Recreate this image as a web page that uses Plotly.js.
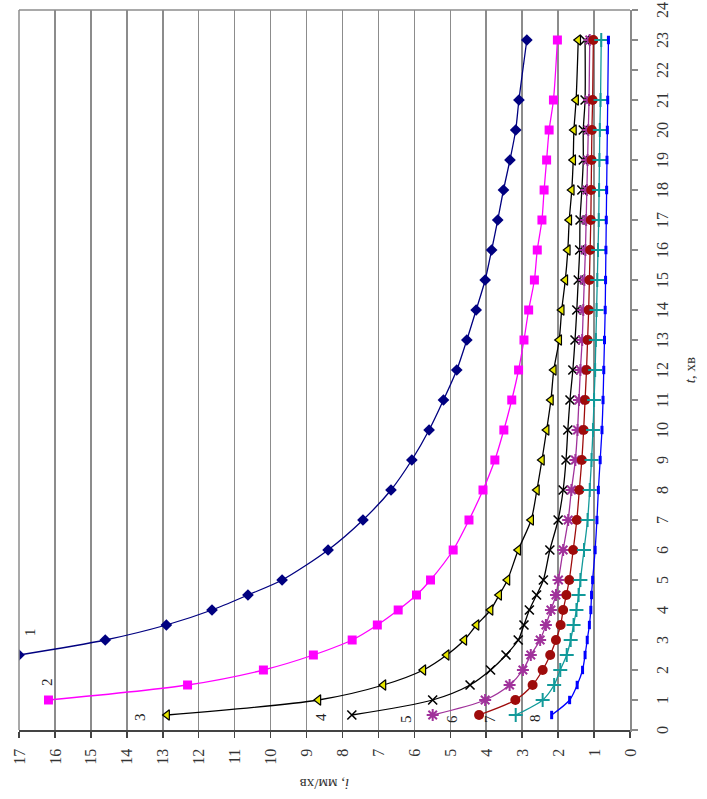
<!DOCTYPE html>
<html>
<head>
<meta charset="utf-8">
<script src="https://cdn.plot.ly/plotly-3.0.1.min.js"></script>
<style>
  html, body { margin: 0; padding: 0; background: #fff; }
  #page { position: relative; width: 707px; height: 799px; overflow: hidden; background: #fff; }
  /* the chart is laid out landscape and turned a quarter turn counter-clockwise */
  #chart { position: absolute; left: 0; top: 0; width: 799px; height: 707px;
           transform-origin: 0 0; transform: translate(0px, 799px) rotate(-90deg); }
</style>
</head>
<body>
<div id="page"><div id="chart"></div></div>
<script>
// time, min
const tFrom25 = [2.5, 3, 3.5, 4, 4.5, 5, 6, 7, 8, 9, 10, 11, 12, 13, 14, 15, 16, 17, 18, 19, 20, 21, 23];
const tFrom1  = [1, 1.5, 2, 2.5, 3, 3.5, 4, 4.5, 5, 6, 7, 8, 9, 10, 11, 12, 13, 14, 15, 16, 17, 18, 19, 20, 21, 23];
const tFrom05 = [0.5, 1, 1.5, 2, 2.5, 3, 3.5, 4, 4.5, 5, 6, 7, 8, 9, 10, 11, 12, 13, 14, 15, 16, 17, 18, 19, 20, 21, 23];

// rate i, mm/min, curves 1..8
const i1 = [17.0, 14.6, 12.9, 11.63, 10.63, 9.68, 8.4, 7.43, 6.65, 6.07, 5.59, 5.19, 4.82, 4.54, 4.28, 4.03, 3.85, 3.68, 3.52, 3.34, 3.18, 3.09, 2.87];
const i2 = [16.18, 12.31, 10.2, 8.81, 7.73, 7.03, 6.45, 5.94, 5.55, 4.92, 4.48, 4.09, 3.76, 3.51, 3.29, 3.1, 2.95, 2.82, 2.66, 2.58, 2.45, 2.39, 2.32, 2.25, 2.13, 2.02];
const i3 = [12.88, 8.67, 6.86, 5.75, 5.1, 4.61, 4.27, 3.88, 3.64, 3.41, 3.11, 2.75, 2.59, 2.45, 2.32, 2.2, 2.12, 1.97, 1.9, 1.8, 1.73, 1.69, 1.62, 1.58, 1.56, 1.5, 1.44];
const i4 = [7.74, 5.49, 4.45, 3.88, 3.45, 3.11, 2.95, 2.8, 2.6, 2.41, 2.23, 2.0, 1.86, 1.78, 1.73, 1.67, 1.59, 1.53, 1.48, 1.44, 1.4, 1.39, 1.34, 1.3, 1.3, 1.25, 1.25];
const i5 = [5.49, 4.03, 3.35, 2.98, 2.76, 2.5, 2.34, 2.2, 2.06, 1.99, 1.86, 1.72, 1.63, 1.52, 1.46, 1.42, 1.38, 1.33, 1.3, 1.27, 1.24, 1.22, 1.2, 1.18, 1.16, 1.14, 1.12];
const i6 = [4.2, 3.19, 2.71, 2.43, 2.22, 2.06, 1.93, 1.86, 1.77, 1.69, 1.58, 1.48, 1.41, 1.34, 1.29, 1.25, 1.21, 1.18, 1.15, 1.13, 1.11, 1.09, 1.08, 1.07, 1.06, 1.04, 1.02];
const i7 = [3.18, 2.43, 2.11, 1.94, 1.76, 1.65, 1.57, 1.49, 1.43, 1.38, 1.28, 1.18, 1.12, 1.07, 1.03, 1.0, 0.97, 0.95, 0.93, 0.91, 0.89, 0.87, 0.86, 0.85, 0.84, 0.82, 0.8];
const i8 = [2.18, 1.68, 1.47, 1.32, 1.25, 1.19, 1.13, 1.09, 1.07, 1.04, 0.97, 0.92, 0.88, 0.83, 0.78, 0.75, 0.73, 0.71, 0.69, 0.68, 0.67, 0.66, 0.65, 0.64, 0.63, 0.62, 0.6];

// curve numbers and where they sit (t, i)
const curveLabels = ['1', '2', '3', '4', '5', '6', '7', '8'];
const labelT = [3.28, 1.6, 0.42, 0.44, 0.36, 0.38, 0.38, 0.4];
const labelI = [16.7, 16.23, 13.63, 8.6, 6.23, 4.96, 3.9, 2.64];

const tTicks = Array.from({length: 25}, (_, k) => k);
const iTicks = Array.from({length: 18}, (_, k) => k);

const serif = 'Liberation Serif, Times New Roman, serif';

function curve(x, y, lineColor, marker) {
  return {
    x: x, y: y, type: 'scatter', mode: 'lines+markers',
    line: {color: lineColor, width: 1.3, shape: 'spline', smoothing: 0.8},
    marker: marker, showlegend: false, hoverinfo: 'skip'
  };
}

const traces = [
  curve(tFrom25, i1, '#000080', {symbol: 'diamond', size: 9, color: '#000080'}),
  curve(tFrom1, i2, '#ff00ff', {symbol: 'square', size: 9, color: '#ff00ff'}),
  curve(tFrom05, i3, '#000000', {symbol: 'triangle-up', size: 9, color: '#e6e600', line: {color: '#000000', width: 1.2}}),
  curve(tFrom05, i4, '#000000', {symbol: 'x-thin-open', size: 9, color: '#000000', line: {color: '#000000', width: 1.6}}),
  curve(tFrom05, i5, '#a0329b', {symbol: 'asterisk-open', size: 10, color: '#a0329b', line: {color: '#a0329b', width: 2}}),
  curve(tFrom05, i6, '#9e0b0b', {symbol: 'circle', size: 10, color: '#9e0b0b'}),
  curve(tFrom05, i7, '#129a9a', {symbol: 'cross-thin-open', size: 10, color: '#129a9a', line: {color: '#129a9a', width: 2}}),
  curve(tFrom05, i8, '#0000ff', {symbol: 'line-ew-open', size: 6, color: '#0000ff', line: {color: '#0000ff', width: 3}})
];

const annotations = curveLabels.map((txt, k) => ({
  x: labelT[k], y: labelI[k], xref: 'x', yref: 'y', text: txt, showarrow: false,
  font: {family: serif, size: 15, color: '#222'}
}));

const layout = {
  width: 799, height: 707,
  margin: {l: 69, r: 10, t: 19, b: 77},
  paper_bgcolor: '#ffffff', plot_bgcolor: '#ffffff',
  font: {family: serif, size: 16, color: '#222'},
  xaxis: {
    range: [0, 24], tickvals: tTicks, ticktext: tTicks.map(String),
    showgrid: false, zeroline: false,
    showline: true, linecolor: '#8a8a8a', linewidth: 2,
    ticks: 'outside', ticklen: 6, tickcolor: '#8a8a8a', tickwidth: 1.5,
    ticklabelstandoff: 11,
    tickfont: {family: serif, size: 16, color: '#333'},
    title: {text: '<i>t</i>, хв', font: {family: serif, size: 15, color: '#333'}, standoff: 14},
    mirror: false
  },
  yaxis: {
    range: [0, 17], tickvals: iTicks, ticktext: iTicks.map(String),
    showgrid: true, gridcolor: '#8c8c8c', gridwidth: 1.5,
    zeroline: false,
    showline: true, linecolor: '#444', linewidth: 1.5,
    ticks: 'outside', ticklen: 6, tickcolor: '#444', tickwidth: 1.5,
    ticklabelstandoff: 8,
    tickfont: {family: serif, size: 16, color: '#333'},
    title: {text: '<i>i</i>, мм/хв', font: {family: serif, size: 15, color: '#333'}, standoff: 10}
  },
  shapes: [
    // plot frame at the far edges
    {type: 'line', xref: 'paper', yref: 'paper', x0: 0, x1: 1, y0: 1, y1: 1, line: {color: '#8c8c8c', width: 1.5}},
    {type: 'line', xref: 'paper', yref: 'paper', x0: 1, x1: 1, y0: 0, y1: 1, line: {color: '#8c8c8c', width: 1.5}}
  ],
  annotations: annotations
};

Plotly.newPlot('chart', traces, layout, {staticPlot: true, displayModeBar: false});
</script>
</body>
</html>
